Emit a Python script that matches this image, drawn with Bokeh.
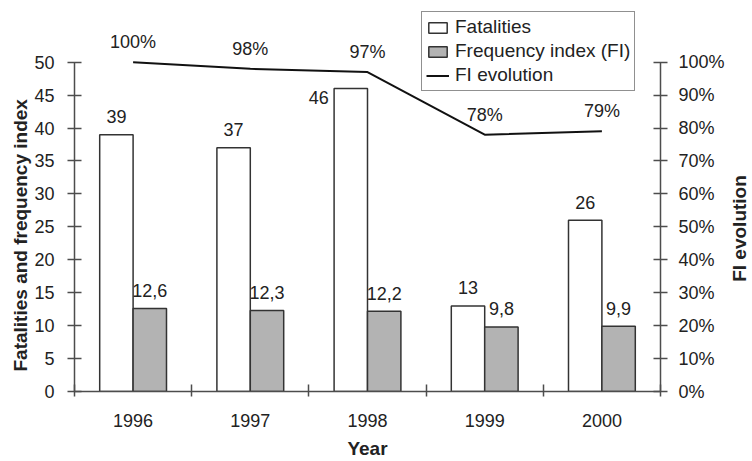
import math
from bokeh.plotting import figure
from bokeh.models import (ColumnDataSource, Range1d, LinearAxis, FixedTicker,
                          NumeralTickFormatter, LabelSet, Legend, LegendItem, Title, Label)
from bokeh.core.properties import value
from bokeh.embed import file_html
from bokeh.resources import INLINE

# ---- data ----
years = ["1996", "1997", "1998", "1999", "2000"]
fatalities = [39, 37, 46, 13, 26]
frequency_index = [12.6, 12.3, 12.2, 9.8, 9.9]
fi_evolution = [1.00, 0.98, 0.97, 0.78, 0.79]
fi_labels = ["12,6", "12,3", "12,2", "9,8", "9,9"]
evo_labels = ["100%", "98%", "97%", "78%", "79%"]
left_ticks = list(range(0, 51, 5))
right_ticks = [i / 10 for i in range(11)]

FONT = "Liberation Sans"
TXT = "#222222"
AX = "#4d4d4d"
BW = 0.285          # bar width in category units
Y_TOP = 59.37       # headroom above 50 for labels and legend

centers = [i + 0.5 for i in range(len(years))]
src = ColumnDataSource(dict(
    xc=centers,
    xf=[c - BW / 2 for c in centers],
    xi=[c + BW / 2 for c in centers],
    fat=fatalities,
    fi=frequency_index,
    evo=fi_evolution,
    fat_lab=[str(v) for v in fatalities],
    fi_lab=fi_labels,
    evo_lab=evo_labels,
    # label nudges (the 1998 fatality label sits left of its bar)
    fat_dx=[0, 0, -32, 0, 0],
    fat_dy=[18, 18, -9, 18, 18],
))

p = figure(width=752, height=461, output_backend="svg", toolbar_location=None,
           x_range=Range1d(0, len(years)), y_range=Range1d(0, Y_TOP),
           min_border_left=74, min_border_right=92, min_border_top=0,
           min_border_bottom=68)
p.outline_line_color = None
p.xgrid.visible = False
p.ygrid.visible = False
p.background_fill_color = "white"
p.border_fill_color = "white"

p.extra_y_ranges = {"fi": Range1d(0, Y_TOP / 50)}

r_fat = p.vbar(x="xf", top="fat", width=BW, source=src, fill_color="white",
               line_color="#333333", line_width=1.5)
r_fi = p.vbar(x="xi", top="fi", width=BW, source=src, fill_color="#b3b3b3",
              line_color="#333333", line_width=1.5)
r_evo = p.line(x="xc", y="evo", source=src, y_range_name="fi",
               line_color="#111111", line_width=2)

# ---- axes ----
xa = p.xaxis[0]
xa.ticker = FixedTicker(ticks=centers, minor_ticks=list(range(len(years) + 1)))
xa.major_label_overrides = {c: y for c, y in zip(centers, years)}
xa.major_tick_in = 0
xa.major_tick_out = 0
xa.minor_tick_in = 7
xa.minor_tick_out = 5
xa.minor_tick_line_color = AX
xa.minor_tick_line_width = 1.5
xa.axis_line_color = AX
xa.axis_line_width = 1.5
xa.major_label_standoff = 17
xa.axis_label = "Year"
xa.axis_label_standoff = 8

ya = p.yaxis[0]
ya.ticker = FixedTicker(ticks=left_ticks)
ya.bounds = (0, 50)
ya.minor_tick_line_color = None
ya.major_tick_in = 7
ya.major_tick_out = 7
ya.major_label_standoff = 13
ya.axis_line_color = AX
ya.axis_line_width = 1.5
ya.major_tick_line_color = AX
ya.major_tick_line_width = 1.5

ra = LinearAxis(y_range_name="fi", ticker=FixedTicker(ticks=right_ticks),
                formatter=NumeralTickFormatter(format="0%"), bounds=(0, 1))
ra.minor_tick_line_color = None
ra.major_tick_in = 7
ra.major_tick_out = 7
ra.major_label_standoff = 11
ra.axis_line_color = AX
ra.axis_line_width = 1.5
ra.major_tick_line_color = AX
ra.major_tick_line_width = 1.5
p.add_layout(ra, "right")

for ax in [xa, ya, ra]:
    ax.major_label_text_font = FONT
    ax.major_label_text_font_size = "18px"
    ax.major_label_text_color = TXT
    ax.axis_label_text_font = FONT
    ax.axis_label_text_font_size = "19px"
    ax.axis_label_text_font_style = "bold"
    ax.axis_label_text_color = TXT

# left axis title, placed a little below the frame's middle
ltitle = Title(text="Fatalities and frequency index", align="left", offset=20,
               text_font=FONT, text_font_size="19px", text_font_style="bold",
               text_color=TXT, standoff=2)
p.add_layout(ltitle, "left")

# right axis title, reading bottom-to-top
rlabel = Label(text="FI evolution", x=1, y=163, x_units="screen", y_units="screen",
               angle=90, angle_units="deg", text_align="center",
               text_baseline="top", text_font=FONT, text_font_size="19px",
               text_font_style="bold", text_color=TXT)
p.add_layout(rlabel, "right")

# ---- data labels ----
common = dict(text_font=value(FONT), text_font_size="18px", text_color=TXT,
              text_align="center", text_baseline="middle")
p.add_layout(LabelSet(x="xf", y="fat", text="fat_lab", x_offset="fat_dx",
                      y_offset="fat_dy", source=src, **common))
p.add_layout(LabelSet(x="xi", y="fi", text="fi_lab", y_offset=18,
                      source=src, **common))
p.add_layout(LabelSet(x="xc", y="evo", text="evo_lab", y_offset=20,
                      y_range_name="fi", source=src, **common))

# ---- legend ----
legend = Legend(items=[
    LegendItem(label="Fatalities", renderers=[r_fat]),
    LegendItem(label="Frequency index (FI)", renderers=[r_fi]),
    LegendItem(label="FI evolution", renderers=[r_evo]),
], location=(347, 300))
legend.label_text_font = FONT
legend.label_text_font_size = "19px"
legend.label_text_color = TXT
legend.glyph_width = 23
legend.glyph_height = 13
legend.label_standoff = 6
legend.spacing = 2
legend.padding = 4
legend.margin = 0
legend.border_line_color = "#222222"
legend.border_line_width = 1.5
legend.background_fill_color = "white"
legend.background_fill_alpha = 1
p.add_layout(legend, "center")

open("out.html", "w").write(file_html(p, INLINE))
